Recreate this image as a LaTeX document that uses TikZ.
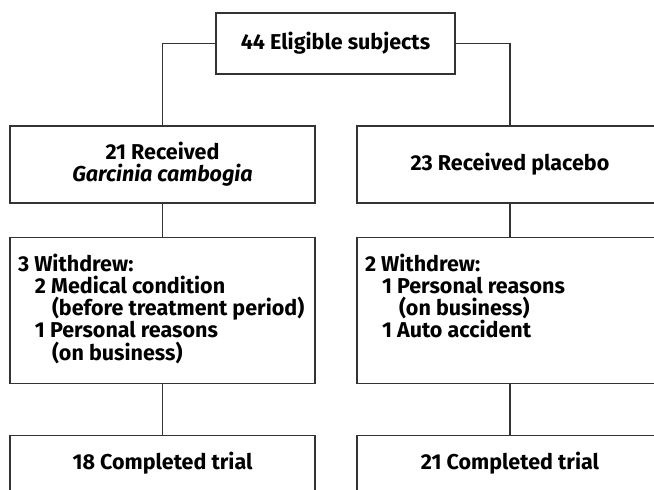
\documentclass[tikz,border=0pt]{standalone}
\usepackage{fontspec}
\setmainfont{Fira Sans}
\usetikzlibrary{positioning}

\tikzset{
  box/.style={draw=black!80, line width=1.3pt, inner sep=0pt, align=center,
    font=\fontsize{21.5}{22.3}\selectfont\bfseries},
  wdbox/.style={box, anchor=north, inner xsep=8pt, inner ysep=16pt, align=left},
}

\begin{document}
\begin{tikzpicture}[x=1pt, y=-1pt]

  \useasboundingbox (0,0) rectangle (654,490);
  \clip (0,0) rectangle (654,490);

  \node[box, minimum width=239pt, minimum height=61pt] (elig) at (335.5,43.5) {44 Eligible subjects};

  \node[box, minimum width=305pt, minimum height=77pt] (gc) at (162.5,164.5)
    {21 Received\\ \textit{Garcinia cambogia}};
  \node[box, minimum width=306pt, minimum height=77pt] (pl) at (510,164.5)
    {23 Received placebo};

  \node[wdbox] (wd1) at (162.5,237) {\parbox[t][114pt][t]{289pt}{%
    3 Withdrew:\\
    \hspace*{17pt}2 Medical condition\\
    \hspace*{34pt}(before treatment period)\\
    \hspace*{17pt}1 Personal reasons\\
    \hspace*{34pt}(on business)}};
  \node[wdbox] (wd2) at (510,237) {\parbox[t][114pt][t]{290pt}{%
    2 Withdrew:\\
    \hspace*{17pt}1 Personal reasons\\
    \hspace*{34pt}(on business)\\
    \hspace*{17pt}1 Auto accident}};

  \node[box, anchor=north, minimum width=305pt, minimum height=56pt] (done1) at (162.5,435)
    {18 Completed trial};
  \node[box, anchor=north, minimum width=306pt, minimum height=56pt] (done2) at (510,435)
    {21 Completed trial};

  \draw[black!80, line width=1.3pt] (elig.west) -| (gc.north);
  \draw[black!80, line width=1.3pt] (elig.east) -| (pl.north);
  \foreach \a/\b in {gc/wd1, wd1/done1, pl/wd2, wd2/done2}
    \draw[black!80, line width=1.3pt] (\a) -- (\b);

\end{tikzpicture}
\end{document}
